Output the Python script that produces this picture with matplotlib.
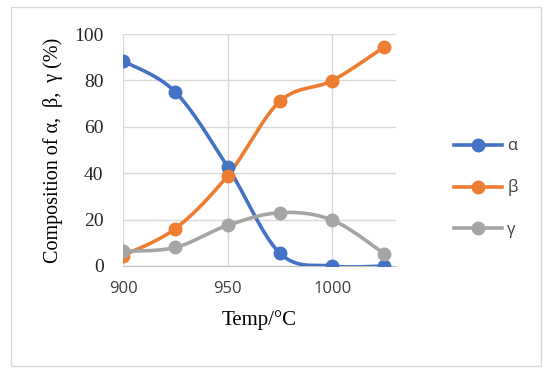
import numpy as np
import matplotlib.pyplot as plt
from matplotlib.patches import Rectangle

temp = [900, 925, 950, 975, 1000, 1025]
alpha = [88.4, 75.0, 42.8, 5.5, 0.0, 0.0]
beta = [4.5, 16.1, 38.9, 71.0, 79.9, 94.5]
gamma = [6.3, 8.0, 17.5, 23.0, 19.8, 5.2]
names = ['α', 'β', 'γ']
colors = ['#4472C4', '#ED7D31', '#A5A5A5']


def smooth(x, y, n=30):
    # Excel-style smoothing: Catmull-Rom bezier between the points
    x = np.asarray(x, float)
    y = np.asarray(y, float)
    px = np.concatenate([[x[0]], x, [x[-1]]])
    py = np.concatenate([[y[0]], y, [y[-1]]])
    xs, ys = [], []
    t = np.linspace(0, 1, n)
    for i in range(1, len(px) - 2):
        p0 = np.array([px[i], py[i]])
        p3 = np.array([px[i + 1], py[i + 1]])
        c1 = p0 + (p3 - np.array([px[i - 1], py[i - 1]])) / 6
        c2 = p3 - (np.array([px[i + 2], py[i + 2]]) - p0) / 6
        b = ((1 - t) ** 3)[:, None] * p0 + (3 * (1 - t) ** 2 * t)[:, None] * c1 \
            + (3 * (1 - t) * t ** 2)[:, None] * c2 + (t ** 3)[:, None] * p3
        xs.extend(b[:, 0])
        ys.extend(b[:, 1])
    return xs, ys


fig = plt.figure(figsize=(5.5, 3.73), dpi=100)
ax = fig.add_axes([123 / 550, 1 - 266 / 373, (396 - 123) / 550, (266 - 34) / 373])

for vals, name, c in zip([alpha, beta, gamma], names, colors):
    sx, sy = smooth(temp, vals)
    ax.plot(sx, sy, color=c, lw=2.6, zorder=3, solid_capstyle='round')
    ax.plot(temp, vals, 'o', color=c, ms=9, zorder=4)
    ax.plot([], [], '-o', color=c, lw=2.6, ms=9, label=name)

ax.set_xlim(900, 1030.5)
ax.set_ylim(0, 100)
ax.set_xticks([900, 950, 1000])
ax.set_yticks([0, 20, 40, 60, 80, 100])
ax.grid(True, color='#D9D9D9', lw=1)
ax.set_axisbelow(True)
for s in ['top', 'right', 'left']:
    ax.spines[s].set_visible(False)
ax.spines['bottom'].set_color('#BFBFBF')
ax.tick_params(length=0)
ax.tick_params(axis='x', pad=11)
ax.tick_params(axis='y', pad=14)
for lab in ax.get_xticklabels():
    lab.set_fontfamily('Open Sans')
    lab.set_fontsize(12)
    lab.set_color('#404040')
for lab in ax.get_yticklabels():
    lab.set_fontfamily('Liberation Serif')
    lab.set_fontsize(14)
    lab.set_color('#262626')

ax.set_xlabel('Temp/°C', fontfamily='Liberation Serif', fontsize=15, labelpad=9)
ax.set_ylabel('Composition of α,  β,  γ (%)', fontfamily='Liberation Serif', fontsize=14.5, labelpad=8)

leg = fig.legend(loc='center left', bbox_to_anchor=(439 / 550, 1 - 188 / 373), frameon=False,
                 labelspacing=1.5, handlelength=2.9, handletextpad=0.3,
                 prop={'family': 'Open Sans', 'size': 12})
for t in leg.get_texts():
    t.set_color('#404040')

fig.patches.append(Rectangle((11 / 550, 1 - 366 / 373), 530 / 550, 359 / 373,
                             transform=fig.transFigure, fill=False, edgecolor='#D9D9D9', lw=1))

fig.savefig('out.png', dpi=100)
